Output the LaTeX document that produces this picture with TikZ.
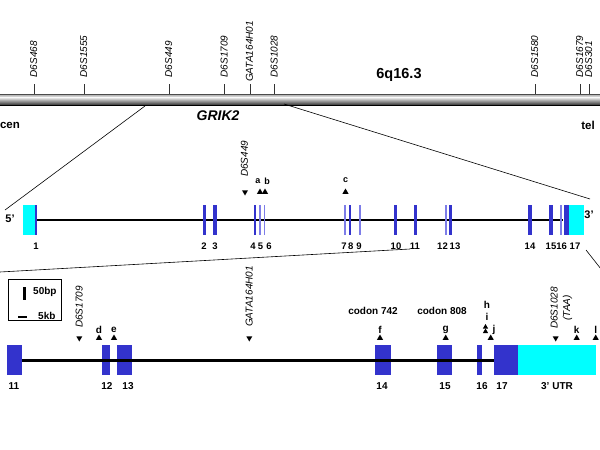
\documentclass[tikz,border=0pt]{standalone}
\usepackage{fontspec}
\setmainfont{Liberation Sans}
\usetikzlibrary{shapes.geometric}
\definecolor{exblue}{RGB}{51,51,204}
\definecolor{exlight}{RGB}{125,125,232}
\definecolor{utr}{RGB}{0,255,255}
\begin{document}
\begin{tikzpicture}[x=1pt,y=-1pt,
  mlab/.style={rotate=90,anchor=west,inner sep=0pt,font=\itshape\fontsize{10}{12.5}\selectfont},
  num/.style={inner sep=0pt,font=\bfseries\fontsize{9.5}{11}\selectfont},
  bnum/.style={inner sep=0pt,font=\bfseries\fontsize{10}{12}\selectfont},
  let/.style={inner sep=0pt,font=\bfseries\fontsize{9}{11}\selectfont},
  blet/.style={inner sep=0pt,font=\bfseries\fontsize{10}{12}\selectfont},
  triup/.style={regular polygon,regular polygon sides=3,fill=black,inner sep=0pt,minimum size=7pt},
  tridown/.style={triup,shape border rotate=180},
  exm/.style={fill=exblue,inner sep=0pt,minimum height=30pt,minimum width=#1},
  exthin/.style={fill=exlight,inner sep=0pt,minimum height=30pt,minimum width=#1},
  tick/.style={draw=black!80,line width=0.6pt},
  zoomline/.style={draw=black,line width=0.6pt},
  backbone/.style={draw=black,line width=3pt}]
\useasboundingbox (0,0) rectangle (600,450);
\fill[white] (0,0) rectangle (600,450);

% chromosome bar
\shade[top color=gray!70,bottom color=white!93!black] (0,94) rectangle (600,97.5);
\shade[top color=white!93!black,bottom color=black!80] (0,97.5) rectangle (600,105);
\draw[black!70,line width=0.5pt] (0,94) -- (600,94);
\draw[black,line width=0.6pt] (0,105) -- (600,105);

% ticks and marker labels
\foreach \x/\n/\yy in {34.3/D6S468/77.5,84.3/D6S1555/77.5,169.3/D6S449/77.5,224.7/D6S1709/77.5,250/GATA164H01/82,274.7/D6S1028/77.5,535.3/D6S1580/77.5,580.3/D6S1679/77.5,589.3/D6S301/77.5}{
  \draw[tick] (\x,84) -- (\x,94);
  \node[mlab] (t\n) at (\x-0.5,\yy) {\n};
}
\node[inner sep=0pt,font=\bfseries\fontsize{14.5}{16}\selectfont] (band) at (399,75) {6q16.3};
\node[inner sep=0pt,font=\bfseries\itshape\fontsize{14}{16}\selectfont] (grik) at (218,116) {GRIK2};
\node[inner sep=0pt,font=\bfseries\fontsize{11.5}{13}\selectfont] (cen) at (10,125) {cen};
\node[inner sep=0pt,font=\bfseries\fontsize{11.5}{13}\selectfont] (tel) at (588,125) {tel};

% zoom lines
\coordinate (z1a) at (145,106); \coordinate (z1b) at (5,210);
\coordinate (z2a) at (284,104); \coordinate (z2b) at (590,199);
\coordinate (z3a) at (410,249); \coordinate (z3b) at (0,272);
\coordinate (z4a) at (586,250); \coordinate (z4b) at (601,269);
\draw[zoomline] (z1a) -- (z1b);
\draw[zoomline] (z2a) -- (z2b);
\draw[zoomline] (z3a) -- (z3b);
\draw[zoomline] (z4a) -- (z4b);

% ===== middle row =====
\node[fill=utr,inner sep=0pt,minimum width=12pt,minimum height=30pt] (m1u) at (29,220) {};
\node[exm=2.2pt] (m1) at (36,220) {};
\node[fill=utr,inner sep=0pt,minimum width=15pt,minimum height=30pt] (m17u) at (576,220) {};
\node[exm=5pt] (m17) at (566,220) {};
\draw[black,line width=2.6pt] (m1.east) -- (m17.west);
\foreach \x/\n/\w in {204.3/2/3,215/3/3.3,254.8/4/2.6,350/8/2.4,395.3/10/3.6,415.3/11/3.6,450.3/13/3,530/14/3.6,550.7/15/3.6}{
  \node[exm=\w pt] (m\n) at (\x,220) {};
}
\foreach \x/\n/\w in {260/5/1.6,264.7/6/1.3,345/7/1.5,360/9/1.3,446/12/1.3,560.7/16/1.6}{
  \node[exthin=\w pt] (m\n) at (\x,220) {};
}
\foreach \x/\n in {36/1,204/2,215/3,253/4,260.5/5,269/6,344/7,350.7/8,359/9,396/10,415/11,442.5/12,455/13,530/14,551/15,561.7/16,575/17}{
  \node[num] (n\n) at (\x,246) {\n};
}
\node[inner sep=0pt,font=\bfseries\fontsize{11}{12}\selectfont] (p5) at (10,219) {5'};
\node[inner sep=0pt,font=\bfseries\fontsize{11}{12}\selectfont] (p3) at (589,215) {3'};

\node[tridown] (ma) at (245,192) {};
\node[mlab] (mD6S449) at (244.5,177) {D6S449};
\node[triup] (ta) at (260,192) {};
\node[triup] (tb) at (265,192) {};
\node[let] (la) at (258,181) {a};
\node[let] (lb) at (267,181) {b};
\node[triup] (tc) at (345.5,192) {};
\node[let] (lc) at (345.7,180) {c};

% ===== bottom row =====
\node[exm=15pt] (b11) at (14.3,360) {};
\node[exm=8pt] (b12) at (106,360) {};
\node[exm=15pt] (b13) at (124.5,360) {};
\node[exm=16pt] (b14) at (383,360) {};
\node[exm=15pt] (b15) at (444.5,360) {};
\node[exm=5pt] (b16) at (479.5,360) {};
\node[exm=24pt] (b17) at (506,360) {};
\node[fill=utr,inner sep=0pt,minimum width=78pt,minimum height=30pt] (butr) at (557,360) {};
\draw[backbone] (b11.east) -- (b17.west);

\foreach \x/\n in {14/11,107/12,128/13,382/14,445/15,482/16,502/17}{
  \node[bnum] (bn\n) at (\x,386) {\n};
}
\node[bnum] (bnutr) at (557,386) {3' UTR};

% scale box
\draw[black,line width=0.6pt] (8,279) rectangle (61,320);
\fill[black] (22.8,287) rectangle (25.6,300);
\node[bnum,anchor=west] (s50) at (33,292) {50bp};
\fill[black] (18.3,315.8) rectangle (26.7,317.6);
\node[bnum,anchor=west] (s5) at (38,315.5) {5kb};

% bottom markers
\node[tridown] (bd1709) at (79.3,338) {};
\node[mlab] (lD6S1709) at (79.3,328) {D6S1709};
\node[tridown] (bgata) at (249.3,338) {};
\node[mlab] (lGATA) at (249.3,327) {GATA164H01};
\node[tridown] (bd1028) at (555.7,338) {};
\node[mlab,align=center] (lD6S1028) at (561.5,329) {D6S1028\\(TAA)};

\foreach \x/\n in {99/d,114/e,380/f,445.7/g,490.7/j,576.7/k,595.7/l}{
  \node[triup] (tr\n) at (\x,338) {};
}
\foreach \x/\n in {99/d,114/e,380/f,445.7/g,494/j,576.7/k,595.7/l}{
  \node[blet] (lt\n) at (\x,330) {\n};
}
\node[triup,minimum size=6pt] (trh) at (485.5,327) {};
\node[triup,minimum size=6pt] (tri) at (485.5,331.5) {};
\node[blet] (lth) at (487,305) {h};
\node[blet] (lti) at (487,317) {i};
\node[blet] (c742) at (373,311) {codon 742};
\node[blet] (c808) at (442,311) {codon 808};
\end{tikzpicture}
\end{document}
